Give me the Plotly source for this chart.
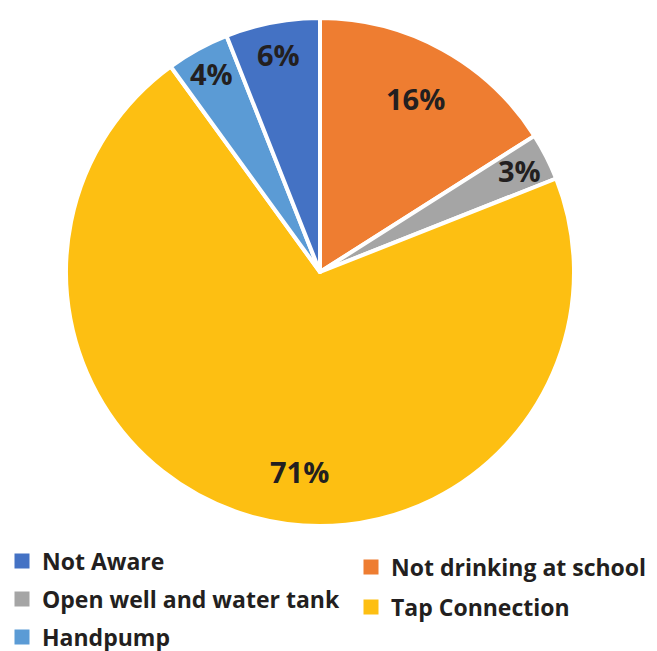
import math
import plotly.graph_objects as go

labels = ["Not drinking at school", "Open well and water tank", "Tap Connection", "Handpump", "Not Aware"]
values = [16, 3, 71, 4, 6]
colors = ["#EE7D31", "#A5A5A5", "#FDBF12", "#5B9BD5", "#4472C4"]

legend_order = ["Not Aware", "Open well and water tank", "Handpump", "Not drinking at school", "Tap Connection"]

W, H = 657, 651
OFF = 8  # page body margin offset
cx, cy, R = 320 - OFF, 272 - OFF, 254
label_r = [0.78, 0.88, 0.79, 0.89, 0.87]    # radial position of the % labels (fraction of radius)
label_a = [0.5, 0.5, 0.46, 0.5, 0.5]        # angular position within the slice
TXT = "#231F20"

fig = go.Figure()
fig.add_trace(go.Pie(
    labels=labels, values=values, sort=False, direction="clockwise", rotation=0,
    marker=dict(colors=colors, line=dict(color="white", width=4)),
    textinfo="none", showlegend=False, hoverinfo="label+percent",
    domain=dict(x=[(cx - R) / W, (cx + R) / W], y=[(H - cy - R) / H, (H - cy + R) / H]),
))

# percentage labels placed inside each slice
total = sum(values)
cum = 0
annotations = []
for v, fr, fa in zip(values, label_r, label_a):
    mid = (cum + v * fa) / total * 2 * math.pi
    cum += v
    px = cx + fr * R * math.sin(mid)
    py = cy - fr * R * math.cos(mid)
    annotations.append(dict(
        x=px / W, y=1 - py / H, xref="paper", yref="paper", showarrow=False,
        text=f"{round(v / total * 100)}%", xanchor="center", yanchor="middle",
        font=dict(family="Open Sans", size=29, color=TXT, weight="bold"),
    ))

# legend placement (pixel positions)
leg_pos = {
    "Not Aware": (-6, 553),
    "Open well and water tank": (-6, 591),
    "Handpump": (-6, 629),
    "Not drinking at school": (343, 559),
    "Tap Connection": (343, 599),
}
color_of = dict(zip(labels, colors))
layout_legends = {}
for i, name in enumerate(legend_order):
    key = "legend" if i == 0 else f"legend{i+1}"
    fig.add_trace(go.Scatter(
        x=[None], y=[None], mode="markers", name=name,
        marker=dict(symbol="square", size=15, color=color_of[name]),
        legend=key, showlegend=True, hoverinfo="skip",
    ))
    px, py = leg_pos[name]
    layout_legends[key] = dict(
        x=px / W, y=1 - py / H, xanchor="left", yanchor="middle",
        font=dict(family="Open Sans", size=23, color=TXT, weight="bold"),
        bgcolor="rgba(0,0,0,0)", itemclick=False,
    )

fig.update_layout(
    width=W, height=H, margin=dict(l=0, r=0, t=0, b=0, autoexpand=False),
    paper_bgcolor="white", plot_bgcolor="white",
    xaxis=dict(visible=False), yaxis=dict(visible=False),
    annotations=annotations,
    **layout_legends,
)
fig.write_html("out.html")
